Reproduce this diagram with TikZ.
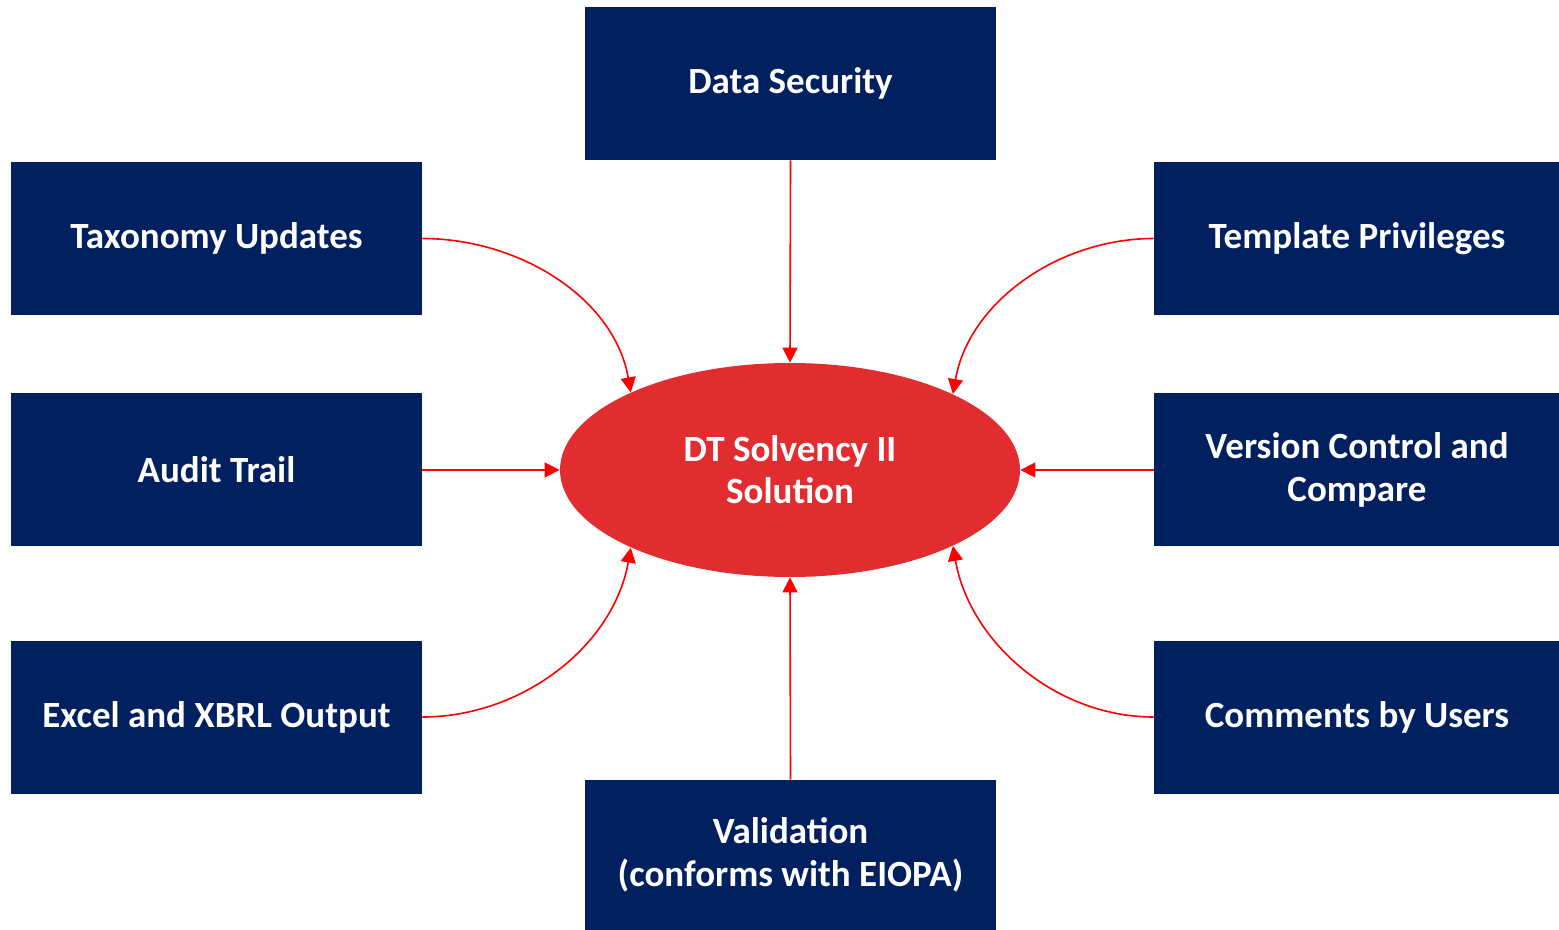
\documentclass[tikz,border=0pt]{standalone}
\usepackage{fontspec}
\setmainfont{Carlito}
\usetikzlibrary{arrows.meta,shapes.geometric}
\definecolor{navy}{HTML}{002060}
\definecolor{redfill}{HTML}{E12D2F}
\definecolor{arrowred}{HTML}{FF0000}
\tikzset{
  box/.style={fill=navy, text=white, minimum width=205.5pt, minimum height=76.5pt, inner sep=0pt, align=center, font=\fontsize{18.5}{21.5}\selectfont\bfseries},
  hub/.style={ellipse, fill=redfill, text=white, minimum width=230pt, minimum height=107pt, inner sep=0pt, align=center, font=\fontsize{18.5}{21}\selectfont\bfseries},
  link/.style={draw=arrowred, line width=0.8pt, -{Triangle[length=7.5pt,width=7.5pt]}}
}
\begin{document}
\begin{tikzpicture}[x=0.5pt,y=-0.5pt]
\useasboundingbox (0,0) rectangle (1559,930);
\node[hub] (e) at (790,470) {DT Solvency II\\Solution};
\node[box] (ds) at (790.5,83.5) {Data Security};
\node[box] (tu) at (216.5,238.5) {Taxonomy Updates};
\node[box, minimum width=203pt] (tp) at (1357,238.5) {Template Privileges};
\node[box] (at) at (216.5,470) {Audit Trail};
\node[box, minimum width=203pt] (vc) at (1357,470) {Version Control and\\Compare};
\node[box] (ex) at (216.5,717) {Excel and XBRL Output};
\node[box, minimum width=203pt] (cu) at (1357,717) {Comments by Users};
\node[box, minimum height=75pt] (va) at (790.5,855) {Validation\\(conforms with EIOPA)};
\draw[link] (ds.south) -- (e.north);
\draw[link] (va.north) -- (e.south);
\draw[link] (at.east) -- (e.west);
\draw[link] (vc.west) -- (e.east);
\draw[link] (tu.east) to[out=0,in=100,looseness=0.95] (e.154.6);
\draw[link] (tp.west) to[out=180,in=80,looseness=0.95] (e.25.4);
\draw[link] (ex.east) to[out=0,in=-100,looseness=0.95] (e.-154.6);
\draw[link] (cu.west) to[out=180,in=-80,looseness=0.95] (e.-25.4);
\end{tikzpicture}
\end{document}
